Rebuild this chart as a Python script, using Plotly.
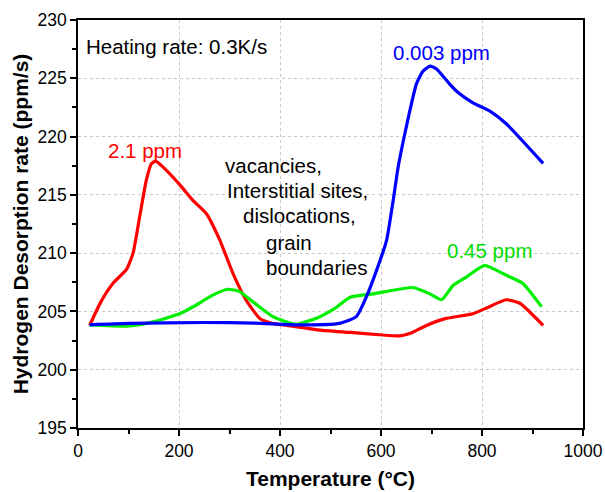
import plotly.graph_objects as go

red_x = [23, 45, 69, 96, 109, 122, 135, 145, 154, 168, 201, 228, 254, 281, 307, 333, 360, 386, 432, 479, 540, 597, 637, 657, 690, 729, 782, 809, 848, 875, 921]
red_y = [203.8, 205.8, 207.4, 208.6, 210.0, 213.1, 216.2, 217.65, 217.9, 217.4, 215.9, 214.5, 213.4, 211.1, 208.25, 205.97, 204.4, 203.97, 203.7, 203.4, 203.2, 203.0, 202.9, 203.1, 203.8, 204.4, 204.8, 205.3, 206.0, 205.7, 203.8]

blue_x = [23, 100, 250, 350, 439, 518, 551, 571, 591, 611, 624, 634, 644, 657, 670, 683, 697, 710, 736, 752, 782, 815, 848, 921]
blue_y = [203.85, 203.97, 204.05, 204.0, 203.85, 203.98, 204.55, 206.25, 208.5, 211.1, 214.5, 217.4, 219.6, 222.2, 224.5, 225.6, 226.05, 225.8, 224.5, 223.8, 222.9, 222.2, 221.1, 217.7]

green_x = [23, 103, 149, 201, 228, 267, 297, 320, 347, 386, 432, 479, 510, 538, 584, 663, 697, 720, 743, 769, 805, 848, 881, 918]
green_y = [203.85, 203.75, 204.1, 204.8, 205.4, 206.4, 206.9, 206.7, 205.8, 204.55, 203.9, 204.55, 205.3, 206.2, 206.5, 207.05, 206.5, 206.0, 207.25, 207.95, 208.95, 208.1, 207.4, 205.4]

x_ticks = [0, 200, 400, 600, 800, 1000]
y_ticks = [195, 200, 205, 210, 215, 220, 225, 230]

FONT = "Liberation Sans, Arial, sans-serif"

fig = go.Figure()
for xs, ys, col in [(red_x, red_y, "#ff0000"), (green_x, green_y, "#00ee00"), (blue_x, blue_y, "#0000ff")]:
    fig.add_trace(go.Scatter(x=xs, y=ys, mode="lines", line=dict(color=col, width=3.2, shape="spline", smoothing=0.5),
                             showlegend=False))

ann = [
    dict(x=12, y=227.76, text="Heating rate: 0.3K/s", color="black", xanchor="left"),
    dict(x=132, y=218.8, text="2.1 ppm", color="#ff0000", xanchor="center"),
    dict(x=720, y=227.2, text="0.003 ppm", color="#0000ff", xanchor="center"),
    dict(x=815, y=210.25, text="0.45 ppm", color="#00dd00", xanchor="center"),
    dict(x=286.5, y=217.5, text="vacancies,", color="black", xanchor="left"),
    dict(x=290.5, y=215.37, text="Interstitial sites,", color="black", xanchor="left"),
    dict(x=322, y=213.23, text="dislocations,", color="black", xanchor="left"),
    dict(x=367.7, y=210.92, text="grain", color="black", xanchor="left"),
    dict(x=367.7, y=208.78, text="boundaries", color="black", xanchor="left"),
]
for a in ann:
    fig.add_annotation(x=a["x"], y=a["y"], text=a["text"], showarrow=False, xanchor=a["xanchor"], yanchor="middle",
                       font=dict(family=FONT, size=20.5, color=a["color"]))

axis_common = dict(showline=True, linecolor="black", linewidth=1.5, mirror=True,
                   ticks="outside", ticklen=6, tickwidth=1.5, tickcolor="black",
                   showgrid=True, gridcolor="#c8c8c8", griddash="dot", gridwidth=1,
                   zeroline=False, tickfont=dict(family=FONT, size=17.5, color="black"))

fig.update_xaxes(range=[0, 1000], tickvals=x_ticks, **axis_common,
                 minor=dict(ticks="outside", ticklen=4, tickwidth=1.5, tickcolor="black", dtick=100, showgrid=False),
                 title=dict(text="<b>Temperature (°C)</b>", font=dict(family=FONT, size=21, color="black"), standoff=12))
fig.update_yaxes(range=[195, 230], tickvals=y_ticks, **axis_common,
                 minor=dict(ticks="outside", ticklen=4, tickwidth=1.5, tickcolor="black", dtick=2.5, showgrid=False),
                 title=dict(text="<b>Hydrogen Desorption rate (ppm/s)</b>", font=dict(family=FONT, size=21, color="black"), standoff=3))

fig.update_layout(width=605, height=492, margin=dict(l=78, r=22, t=20, b=64, autoexpand=False),
                  plot_bgcolor="white", paper_bgcolor="white")

fig.write_html("out.html")
